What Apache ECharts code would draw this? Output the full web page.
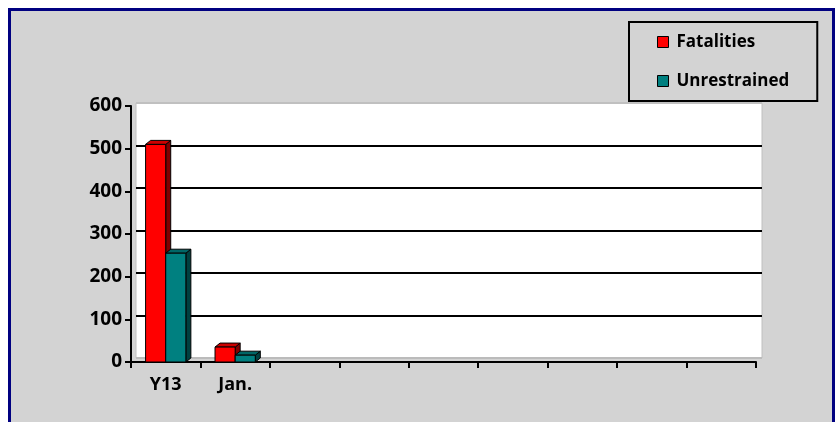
<!DOCTYPE html>
<html>
<head>
<meta charset="utf-8">
<script src="https://cdn.jsdelivr.net/npm/echarts@6/dist/echarts.min.js"></script>
<style>
  html, body { margin: 0; padding: 0; background: #ffffff; }
  .frame {
    position: absolute; left: 8px; top: 8px; width: 821px; height: 430px;
    background: #d3d3d3; border: 3px solid #000080;
  }
  #chart { position: absolute; left: 0; top: 0; width: 838px; height: 422px; }
</style>
</head>
<body>
<div class="frame"></div>
<div id="chart"></div>
<script>
const categories = ["Y13", "Jan.", "", "", "", "", "", "", ""];
const fatalities = [510, 35];
const unrestrained = [255, 16];
const yTicks = [0, 100, 200, 300, 400, 500, 600];

const DEPTH_X = 5;
const DEPTH_Y = 4;

function shade(front, top, side, slot) {
  return function (params, api) {
    const cat = api.value(0);
    const head = api.coord([cat, api.value(1)]);
    const base = api.coord([cat, 0]);
    const w = api.size([1, 0])[0] * 0.29;
    const x0 = head[0] - w + slot * w;
    const y0 = head[1];
    const y1 = base[1];
    const stroke = { stroke: "#000", lineWidth: 1 };
    return {
      type: "group",
      children: [
        {
          type: "polygon",
          shape: { points: [[x0 + w, y0], [x0 + w + DEPTH_X, y0 - DEPTH_Y], [x0 + w + DEPTH_X, y1 - DEPTH_Y], [x0 + w, y1]] },
          style: Object.assign({ fill: side }, stroke),
        },
        {
          type: "polygon",
          shape: { points: [[x0, y0], [x0 + DEPTH_X, y0 - DEPTH_Y], [x0 + w + DEPTH_X, y0 - DEPTH_Y], [x0 + w, y0]] },
          style: Object.assign({ fill: top }, stroke),
        },
        {
          type: "rect",
          shape: { x: x0, y: y0, width: w, height: y1 - y0 },
          style: Object.assign({ fill: front }, stroke),
        },
      ],
    };
  };
}

const font = "Open Sans";
const chart = echarts.init(document.getElementById("chart"), null, { renderer: "canvas" });

chart.setOption({
  backgroundColor: "transparent",
  animation: false,
  legend: {
    orient: "vertical",
    left: 629,
    top: 22,
    padding: [10, 28, 10, 28],
    itemGap: 19,
    itemWidth: 11,
    itemHeight: 11,
    icon: "rect",
    backgroundColor: "#d3d3d3",
    borderColor: "#000",
    borderWidth: 2,
    borderRadius: 0,
    itemStyle: { borderColor: "#000", borderWidth: 1 },
    textStyle: { fontFamily: font, fontWeight: "bold", fontSize: 17, color: "#000", lineHeight: 20, padding: [0, 0, 0, 3] },
    data: ["Fatalities", "Unrestrained"],
  },
  grid: [
    { left: 131, right: 82, top: 106, bottom: 60, show: false },
    { left: 136, right: 76, top: 103, bottom: 64, show: true, backgroundColor: "#ffffff", borderColor: "#c0c0c0", borderWidth: 1 },
  ],
  xAxis: [
    {
      type: "category",
      gridIndex: 0,
      data: categories,
      axisLine: { lineStyle: { color: "#000", width: 2 } },
      axisTick: { show: true, length: 6, lineStyle: { color: "#000", width: 2 } },
      axisLabel: { color: "#000", fontFamily: font, fontWeight: "bold", fontSize: 18, margin: 14, interval: 0 },
    },
    {
      type: "category",
      gridIndex: 1,
      data: categories,
      show: false,
    },
  ],
  yAxis: [
    {
      type: "value",
      gridIndex: 0,
      min: yTicks[0],
      max: yTicks[yTicks.length - 1],
      interval: 100,
      axisLine: { show: true, lineStyle: { color: "#000", width: 2 } },
      axisTick: { show: true, length: 6, lineStyle: { color: "#000", width: 2 } },
      axisLabel: { color: "#000", fontFamily: font, fontWeight: "bold", fontSize: 19, margin: 9 },
      splitLine: { show: false },
    },
    {
      type: "value",
      gridIndex: 1,
      min: yTicks[0],
      max: yTicks[yTicks.length - 1],
      interval: 100,
      axisLine: { show: false },
      axisTick: { show: false },
      axisLabel: { show: false },
      splitLine: {
        show: true,
        lineStyle: { color: ["#bbbbbb", "#000", "#000", "#000", "#000", "#000", "#c0c0c0"], width: 2 },
      },
    },
  ],
  series: [
    {
      name: "Fatalities",
      type: "custom",
      xAxisIndex: 0,
      yAxisIndex: 0,
      itemStyle: { color: "#ff0000" },
      renderItem: shade("#ff0000", "#cc0000", "#800000", 0),
      data: fatalities.map((v, i) => [i, v]),
      z: 5,
    },
    {
      name: "Unrestrained",
      type: "custom",
      xAxisIndex: 0,
      yAxisIndex: 0,
      itemStyle: { color: "#008080" },
      renderItem: shade("#008080", "#006666", "#004040", 1),
      data: unrestrained.map((v, i) => [i, v]),
      z: 6,
    },
  ],
});

window.addEventListener("resize", () => chart.resize());
</script>
</body>
</html>
